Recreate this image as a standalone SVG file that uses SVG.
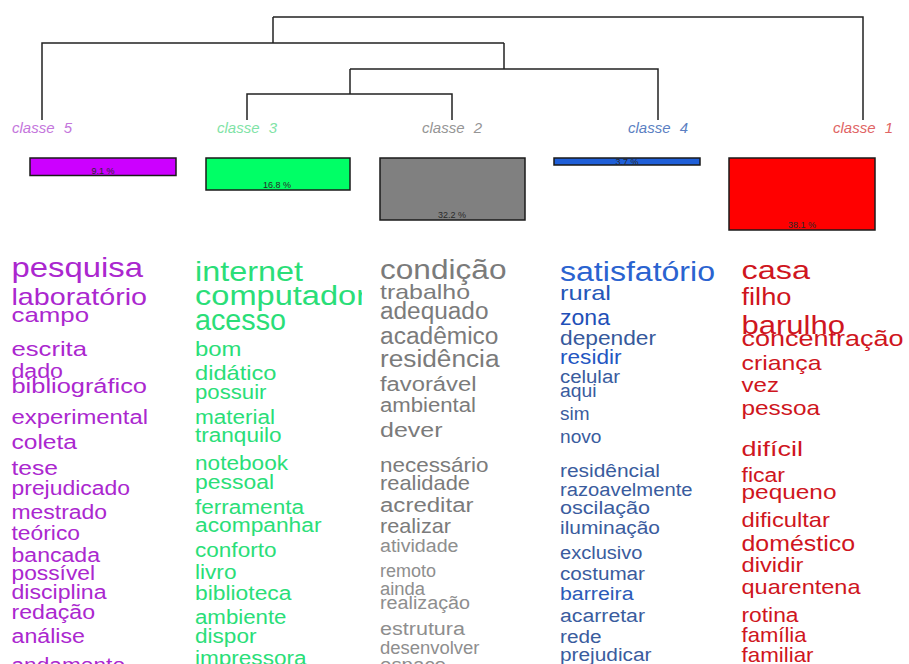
<svg xmlns="http://www.w3.org/2000/svg" width="909" height="664" viewBox="0 0 909 664">
<style>
text{font-family:"Liberation Sans",Arial,sans-serif}
.lbl{font-style:italic;font-size:15px;text-anchor:middle;word-spacing:5px}
.bar{stroke:#1a1a1a;stroke-width:1.5}
.pct{font-size:9px;fill:#2a2a2a;text-anchor:middle}
.edge{fill:none;stroke:#222;stroke-width:1.5}
.c5{fill:#ab27cf}
.c3{fill:#2ade78}
.c2{fill:#7b7b7b}
.c2s{fill:#8e8e8e}
.c4{fill:#2a63d0}
.c4d{fill:#3a5c9e}
.c1{fill:#cf1520}
</style>
<defs>
<clipPath id="clip3"><rect x="0" y="240" width="362" height="424"/></clipPath>
</defs>
<rect width="909" height="664" fill="#fff"/>
<g id="connectors">
<path class="edge" d="M273 17H863V120"/>
<path class="edge" d="M273 17V43"/>
<path class="edge" d="M42 120V43H504"/>
<path class="edge" d="M504 43V69"/>
<path class="edge" d="M350 69H658V120"/>
<path class="edge" d="M350 69V94"/>
<path class="edge" d="M247 120V94H452V120"/>
</g>
<g id="classe5">
<text class="lbl" x="42" y="133" fill="#c476dc">classe 5</text>
<rect class="bar" x="30" y="158" width="146" height="17.5" fill="#cc00ff"/>
<text class="pct" x="103" y="174">9.1 %</text>
<g class="c5">
<text x="11.5" y="277" font-size="28" textLength="131.5" lengthAdjust="spacingAndGlyphs">pesquisa</text>
<text x="11.5" y="305" font-size="24" textLength="135.5" lengthAdjust="spacingAndGlyphs">laboratório</text>
<text x="11.5" y="322" font-size="21" textLength="77.5" lengthAdjust="spacingAndGlyphs">campo</text>
<text x="11.5" y="355.5" font-size="21" textLength="75.5" lengthAdjust="spacingAndGlyphs">escrita</text>
<text x="11.5" y="377.5" font-size="20" textLength="51.5" lengthAdjust="spacingAndGlyphs">dado</text>
<text x="11.5" y="392.5" font-size="20" textLength="135.5" lengthAdjust="spacingAndGlyphs">bibliográfico</text>
<text x="11.5" y="423.5" font-size="20" textLength="136.5" lengthAdjust="spacingAndGlyphs">experimental</text>
<text x="11.5" y="449" font-size="20" textLength="65.5" lengthAdjust="spacingAndGlyphs">coleta</text>
<text x="11.5" y="475" font-size="20" textLength="46.5" lengthAdjust="spacingAndGlyphs">tese</text>
<text x="11.5" y="494.5" font-size="20" textLength="118.5" lengthAdjust="spacingAndGlyphs">prejudicado</text>
<text x="11.5" y="518.5" font-size="20" textLength="95.5" lengthAdjust="spacingAndGlyphs">mestrado</text>
<text x="11.5" y="540" font-size="20" textLength="68.5" lengthAdjust="spacingAndGlyphs">teórico</text>
<text x="11.5" y="561.5" font-size="20" textLength="88.5" lengthAdjust="spacingAndGlyphs">bancada</text>
<text x="11.5" y="580" font-size="20" textLength="83.5" lengthAdjust="spacingAndGlyphs">possível</text>
<text x="11.5" y="598.5" font-size="20" textLength="95" lengthAdjust="spacingAndGlyphs">disciplina</text>
<text x="11.5" y="618.5" font-size="20" textLength="83.5" lengthAdjust="spacingAndGlyphs">redação</text>
<text x="11.5" y="643" font-size="20" textLength="73.5" lengthAdjust="spacingAndGlyphs">análise</text>
<text x="11.5" y="672" font-size="20" textLength="113.5" lengthAdjust="spacingAndGlyphs">andamento</text>
</g>
</g>
<g id="classe3">
<text class="lbl" x="247" y="133" fill="#7fe3a6">classe 3</text>
<rect class="bar" x="206" y="158" width="144" height="32" fill="#00ff66"/>
<text class="pct" x="277" y="188">16.8 %</text>
<g class="c3" clip-path="url(#clip3)">
<text x="195" y="281" font-size="28" textLength="108" lengthAdjust="spacingAndGlyphs">internet</text>
<text x="195" y="304.5" font-size="27" textLength="172" lengthAdjust="spacingAndGlyphs">computador</text>
<text x="195" y="330" font-size="29" textLength="91" lengthAdjust="spacingAndGlyphs">acesso</text>
<text x="195" y="356" font-size="21" textLength="46.5" lengthAdjust="spacingAndGlyphs">bom</text>
<text x="195" y="380" font-size="21" textLength="81.5" lengthAdjust="spacingAndGlyphs">didático</text>
<text x="195" y="398.5" font-size="20" textLength="71.5" lengthAdjust="spacingAndGlyphs">possuir</text>
<text x="195" y="423.5" font-size="20" textLength="80" lengthAdjust="spacingAndGlyphs">material</text>
<text x="195" y="442" font-size="20" textLength="86.5" lengthAdjust="spacingAndGlyphs">tranquilo</text>
<text x="195" y="469.5" font-size="20" textLength="93" lengthAdjust="spacingAndGlyphs">notebook</text>
<text x="195" y="488.5" font-size="20" textLength="79" lengthAdjust="spacingAndGlyphs">pessoal</text>
<text x="195" y="514" font-size="20" textLength="109" lengthAdjust="spacingAndGlyphs">ferramenta</text>
<text x="195" y="532" font-size="20" textLength="126.5" lengthAdjust="spacingAndGlyphs">acompanhar</text>
<text x="195" y="557" font-size="20" textLength="81.5" lengthAdjust="spacingAndGlyphs">conforto</text>
<text x="195" y="578.5" font-size="20" textLength="41.5" lengthAdjust="spacingAndGlyphs">livro</text>
<text x="195" y="600" font-size="20" textLength="96.5" lengthAdjust="spacingAndGlyphs">biblioteca</text>
<text x="195" y="623.5" font-size="20" textLength="91.5" lengthAdjust="spacingAndGlyphs">ambiente</text>
<text x="195" y="643" font-size="20" textLength="61.5" lengthAdjust="spacingAndGlyphs">dispor</text>
<text x="195" y="665" font-size="20" textLength="111.5" lengthAdjust="spacingAndGlyphs">impressora</text>
</g>
</g>
<g id="classe2">
<text class="lbl" x="452" y="133" fill="#959595">classe 2</text>
<rect class="bar" x="380" y="158" width="145" height="62" fill="#808080"/>
<text class="pct" x="452" y="218">32.2 %</text>
<g class="c2">
<text x="380" y="278.5" font-size="27" textLength="126.5" lengthAdjust="spacingAndGlyphs">condição</text>
<text x="380" y="298.5" font-size="21" textLength="90" lengthAdjust="spacingAndGlyphs">trabalho</text>
<text x="380" y="319" font-size="23" textLength="108.5" lengthAdjust="spacingAndGlyphs">adequado</text>
<text x="380" y="343.5" font-size="23" textLength="118.5" lengthAdjust="spacingAndGlyphs">acadêmico</text>
<text x="380" y="366.5" font-size="23" textLength="119.5" lengthAdjust="spacingAndGlyphs">residência</text>
<text x="380" y="391" font-size="20" textLength="96.5" lengthAdjust="spacingAndGlyphs">favorável</text>
<text x="380" y="411.5" font-size="20" textLength="96" lengthAdjust="spacingAndGlyphs">ambiental</text>
<text x="380" y="436.5" font-size="20" textLength="62.5" lengthAdjust="spacingAndGlyphs">dever</text>
<text x="380" y="472" font-size="21" textLength="108.5" lengthAdjust="spacingAndGlyphs">necessário</text>
<text x="380" y="490" font-size="21" textLength="90" lengthAdjust="spacingAndGlyphs">realidade</text>
<text x="380" y="511.5" font-size="20" textLength="93.5" lengthAdjust="spacingAndGlyphs">acreditar</text>
<text x="380" y="533" font-size="21" textLength="71" lengthAdjust="spacingAndGlyphs">realizar</text>
</g>
<g class="c2s">
<text x="380" y="551.5" font-size="18" textLength="78.5" lengthAdjust="spacingAndGlyphs">atividade</text>
<text x="380" y="576.5" font-size="18" textLength="56" lengthAdjust="spacingAndGlyphs">remoto</text>
<text x="380" y="595" font-size="18" textLength="45" lengthAdjust="spacingAndGlyphs">ainda</text>
<text x="380" y="608.5" font-size="18" textLength="90" lengthAdjust="spacingAndGlyphs">realização</text>
<text x="380" y="634.5" font-size="18" textLength="85" lengthAdjust="spacingAndGlyphs">estrutura</text>
<text x="380" y="653.5" font-size="18" textLength="99.5" lengthAdjust="spacingAndGlyphs">desenvolver</text>
<text x="380" y="671" font-size="18" textLength="66" lengthAdjust="spacingAndGlyphs">espaço</text>
</g>
</g>
<g id="classe4">
<text class="lbl" x="658" y="133" fill="#5b7fc2">classe 4</text>
<rect class="bar" x="554" y="158" width="146" height="7" fill="#1f5fd8"/>
<text class="pct" x="627" y="164.5" font-size="8">3.7 %</text>
<g class="c4">
<text x="560" y="281" font-size="27" textLength="155" lengthAdjust="spacingAndGlyphs">satisfatório</text>
<text x="560" y="300" font-size="21" textLength="51" lengthAdjust="spacingAndGlyphs" fill="#2556b8">rural</text>
<text x="560" y="325" font-size="22" textLength="50" lengthAdjust="spacingAndGlyphs" fill="#1f50b8">zona</text>
<text x="560" y="345" font-size="21" textLength="96" lengthAdjust="spacingAndGlyphs" fill="#36599c">depender</text>
<text x="560" y="363.5" font-size="20" textLength="61.5" lengthAdjust="spacingAndGlyphs" fill="#2456c2">residir</text>
</g>
<g class="c4d">
<text x="560" y="383" font-size="18" textLength="60" lengthAdjust="spacingAndGlyphs">celular</text>
<text x="560" y="397" font-size="18" textLength="36.5" lengthAdjust="spacingAndGlyphs">aqui</text>
<text x="560" y="420" font-size="18" textLength="29.5" lengthAdjust="spacingAndGlyphs">sim</text>
<text x="560" y="442.5" font-size="18" textLength="41.5" lengthAdjust="spacingAndGlyphs">novo</text>
<text x="560" y="476.5" font-size="18" textLength="100" lengthAdjust="spacingAndGlyphs">residêncial</text>
<text x="560" y="495.5" font-size="18" textLength="132.5" lengthAdjust="spacingAndGlyphs">razoavelmente</text>
<text x="560" y="513.5" font-size="19" textLength="90" lengthAdjust="spacingAndGlyphs">oscilação</text>
<text x="560" y="533.5" font-size="19" textLength="100" lengthAdjust="spacingAndGlyphs">iluminação</text>
<text x="560" y="558.5" font-size="18" textLength="82.5" lengthAdjust="spacingAndGlyphs">exclusivo</text>
<text x="560" y="580" font-size="18" textLength="85" lengthAdjust="spacingAndGlyphs">costumar</text>
<text x="560" y="600" font-size="18" textLength="73.5" lengthAdjust="spacingAndGlyphs" fill="#2b5ab8">barreira</text>
<text x="560" y="621.5" font-size="18" textLength="85" lengthAdjust="spacingAndGlyphs">acarretar</text>
<text x="560" y="642.5" font-size="18" textLength="41.5" lengthAdjust="spacingAndGlyphs">rede</text>
<text x="560" y="661" font-size="18" textLength="91.5" lengthAdjust="spacingAndGlyphs">prejudicar</text>
</g>
</g>
<g id="classe1">
<text class="lbl" x="863" y="133" fill="#e06464">classe 1</text>
<rect class="bar" x="729" y="158" width="146" height="72" fill="#ff0000"/>
<text class="pct" x="802" y="228">38.1 %</text>
<g class="c1">
<text x="741.5" y="278.5" font-size="26" textLength="68.5" lengthAdjust="spacingAndGlyphs">casa</text>
<text x="741.5" y="305" font-size="23" textLength="50" lengthAdjust="spacingAndGlyphs">filho</text>
<text x="741.5" y="333.5" font-size="25" textLength="103.5" lengthAdjust="spacingAndGlyphs">barulho</text>
<text x="741.5" y="345.5" font-size="22" textLength="162" lengthAdjust="spacingAndGlyphs">concentração</text>
<text x="741.5" y="370" font-size="21" textLength="80" lengthAdjust="spacingAndGlyphs">criança</text>
<text x="741.5" y="392" font-size="21" textLength="37.5" lengthAdjust="spacingAndGlyphs">vez</text>
<text x="741.5" y="415" font-size="21" textLength="78.5" lengthAdjust="spacingAndGlyphs">pessoa</text>
<text x="741.5" y="455.5" font-size="21" textLength="61.5" lengthAdjust="spacingAndGlyphs">difícil</text>
<text x="741.5" y="481.5" font-size="20" textLength="43.5" lengthAdjust="spacingAndGlyphs">ficar</text>
<text x="741.5" y="499" font-size="21" textLength="95" lengthAdjust="spacingAndGlyphs">pequeno</text>
<text x="741.5" y="526.5" font-size="21" textLength="88.5" lengthAdjust="spacingAndGlyphs">dificultar</text>
<text x="741.5" y="550.5" font-size="22" textLength="113.5" lengthAdjust="spacingAndGlyphs">doméstico</text>
<text x="741.5" y="572" font-size="21" textLength="62" lengthAdjust="spacingAndGlyphs">dividir</text>
<text x="741.5" y="594" font-size="21" textLength="119" lengthAdjust="spacingAndGlyphs">quarentena</text>
<text x="741.5" y="621.5" font-size="20" textLength="57" lengthAdjust="spacingAndGlyphs">rotina</text>
<text x="741.5" y="642" font-size="21" textLength="65" lengthAdjust="spacingAndGlyphs">família</text>
<text x="741.5" y="662" font-size="21" textLength="72" lengthAdjust="spacingAndGlyphs">familiar</text>
</g>
</g>
</svg>
